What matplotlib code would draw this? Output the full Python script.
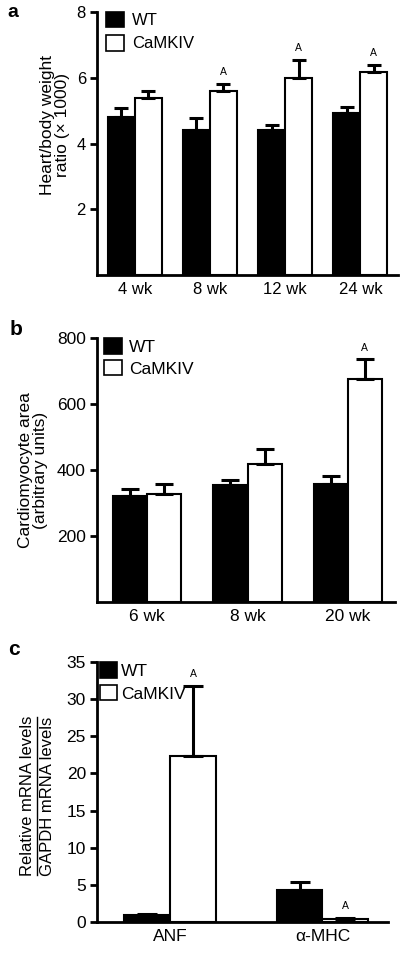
import matplotlib
matplotlib.use("Agg")
import matplotlib.pyplot as plt
import numpy as np
from matplotlib.patches import Patch
from matplotlib.lines import Line2D

plt.rcParams['font.family'] = ['Liberation Sans', 'DejaVu Sans']

# panel a: heart/body weight ratio
a_groups = ['4 wk', '8 wk', '12 wk', '24 wk']
a_wt = [4.82, 4.42, 4.40, 4.92]
a_wt_err = [0.26, 0.35, 0.15, 0.18]
a_ca = [5.38, 5.61, 5.99, 6.16]
a_ca_err = [0.22, 0.21, 0.56, 0.24]
a_sig = [False, True, True, True]

# panel b: cardiomyocyte area
b_groups = ['6 wk', '8 wk', '20 wk']
b_wt = [321, 354, 358]
b_wt_err = [20, 16, 25]
b_ca = [326, 417, 676]
b_ca_err = [31, 48, 59]
b_sig = [False, False, True]

# panel c: mRNA levels
c_groups = ['ANF', '\u03b1-MHC']
c_wt = [0.9, 4.25]
c_wt_err = [0.2, 1.1]
c_ca = [22.3, 0.45]
c_ca_err = [9.45, 0.15]
c_sig = [True, True]

W, H = 413, 957
fig = plt.figure(figsize=(W / 100, H / 100), dpi=100)


def px_axes(left, top, right, bottom):
    return fig.add_axes([left / W, 1 - bottom / H, (right - left) / W, (bottom - top) / H])


def draw_panel(ax, groups, wt, wt_err, ca, ca_err, sig, width, capsize, fs):
    x = np.arange(len(groups))
    zero = np.zeros(len(groups))
    ax.bar(x - width / 2, wt, width, color='black', edgecolor='black', lw=1.5, zorder=2)
    ax.bar(x + width / 2, ca, width, color='white', edgecolor='black', lw=1.5, zorder=2)
    ax.errorbar(x - width / 2, wt, yerr=[zero, wt_err], fmt='none', ecolor='black',
                elinewidth=2.2, capsize=capsize, capthick=2.2, zorder=3)
    ax.errorbar(x + width / 2, ca, yerr=[zero, ca_err], fmt='none', ecolor='black',
                elinewidth=2.2, capsize=capsize, capthick=2.2, zorder=3)
    for i in range(len(groups)):
        if sig[i]:
            ax.annotate('A', (x[i] + width / 2, ca[i] + ca_err[i]), xytext=(0, 5),
                        textcoords='offset points', ha='center', va='bottom', fontsize=7.5)
    ax.set_xticks(x)
    ax.set_xticklabels(groups, fontsize=fs)
    for s in ['top', 'right']:
        ax.spines[s].set_visible(False)
    for s in ['left', 'bottom']:
        ax.spines[s].set_linewidth(2)
    ax.tick_params(axis='y', direction='out', length=5, width=2, labelsize=fs, pad=3)
    ax.tick_params(axis='x', length=0, pad=5)
    handles = [Patch(facecolor='black', edgecolor='black', lw=1.2),
               Patch(facecolor='white', edgecolor='black', lw=1.2)]
    return handles


# ---- panel a
ax = px_axes(97, 12, 398, 275)
h = draw_panel(ax, a_groups, a_wt, a_wt_err, a_ca, a_ca_err, a_sig, 0.36, 4.7, 12)
ax.set_xlim(-0.5, 3.5)
ax.set_ylim(0, 8)
ax.set_yticks([2, 4, 6, 8])
ax.legend(h, ['WT', 'CaMKIV'], loc='upper left', bbox_to_anchor=(0.03, 1.0), frameon=False,
          borderaxespad=0, borderpad=0, handlelength=1.05, handleheight=1.05,
          handletextpad=0.5, labelspacing=0.4, fontsize=12)
ax.set_ylabel('Heart/body weight\nratio (\u00d7 1000)', fontsize=12.5, linespacing=1.0)
ax.yaxis.set_label_coords(-0.09, 0.57)
fig.text(7 / W, 1 - 4 / H, 'a', fontsize=14, fontweight='bold', va='top', ha='left')

# ---- panel b
ax = px_axes(97, 338, 395, 602)
h = draw_panel(ax, b_groups, b_wt, b_wt_err, b_ca, b_ca_err, b_sig, 0.34, 6.5, 12.5)
ax.set_xlim(-0.5, 2.47)
ax.set_ylim(0, 800)
ax.set_yticks([200, 400, 600, 800])
ax.legend(h, ['WT', 'CaMKIV'], loc='upper left', bbox_to_anchor=(0.025, 1.0), frameon=False,
          borderaxespad=0, borderpad=0, handlelength=1.0, handleheight=1.0,
          handletextpad=0.4, labelspacing=0.3, fontsize=12.5)
ax.set_ylabel('Cardiomyocyte area\n(arbitrary units)', fontsize=12.5, linespacing=1.0)
ax.yaxis.set_label_coords(-0.165, 0.5)
fig.text(10 / W, 1 - 320 / H, 'b', fontsize=15, fontweight='bold', va='top', ha='left')

# ---- panel c
ax = px_axes(97, 662, 388, 922)
h = draw_panel(ax, c_groups, c_wt, c_wt_err, c_ca, c_ca_err, c_sig, 0.30, 7.5, 12.5)
ax.set_xlim(-0.48, 1.43)
ax.set_ylim(0, 35)
ax.set_yticks(np.arange(0, 36, 5))
ax.legend(h, ['WT', 'CaMKIV'], loc='upper left', bbox_to_anchor=(0.01, 1.0), frameon=False,
          borderaxespad=0, borderpad=0, handlelength=1.0, handleheight=1.0,
          handletextpad=0.2, labelspacing=0.35, fontsize=12.5)
fig.text(28 / W, 1 - 796 / H, 'Relative mRNA levels', rotation=90, ha='center', va='center', fontsize=12)
fig.text(48 / W, 1 - 796 / H, 'GAPDH mRNA levels', rotation=90, ha='center', va='center', fontsize=12)
fig.add_artist(Line2D([37 / W, 37 / W], [1 - 717 / H, 1 - 875 / H], color='black', lw=1))
fig.text(8 / W, 1 - 640 / H, 'c', fontsize=15, fontweight='bold', va='top', ha='left')

fig.savefig('out.png', dpi=100)
